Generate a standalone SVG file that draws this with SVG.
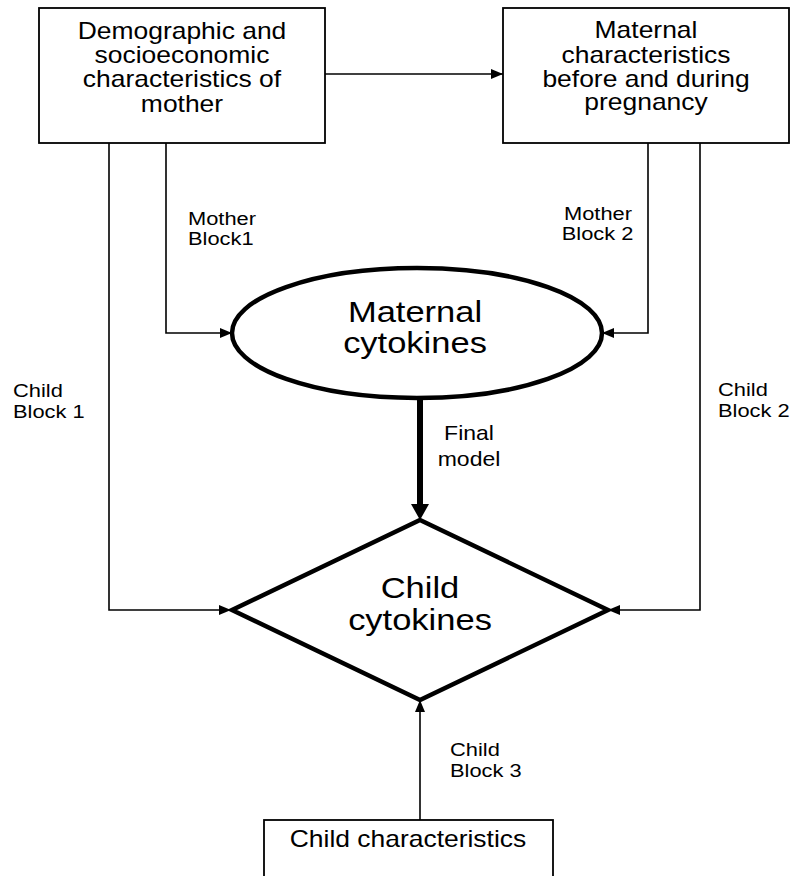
<svg xmlns="http://www.w3.org/2000/svg" width="794" height="876" viewBox="0 0 794 876">
<style>
  .box{fill:#fff;stroke:#000;stroke-width:1.8}
  .shape{fill:#fff;stroke:#000;stroke-width:4.5}
  .conn{fill:none;stroke:#000;stroke-width:1.6}
  .thick{fill:none;stroke:#000;stroke-width:6}
  text{font-family:"Liberation Sans",Arial,sans-serif;fill:#000}
  .bt{font-size:23px;text-anchor:middle}
  .big{font-size:30px;text-anchor:middle}
  .lbl{font-size:19px}
</style>
<defs>
  <marker id="ah" markerWidth="12" markerHeight="10" refX="12" refY="5" orient="auto" markerUnits="userSpaceOnUse">
    <path d="M0,0 L12,5 L0,10 z" fill="#000"/>
  </marker>
</defs>
<rect width="794" height="876" fill="#fff"/>

<g id="connectors">
  <path class="conn" d="M325,74 H503" marker-end="url(#ah)"/>
  <path class="conn" d="M166,143 V333 H232" marker-end="url(#ah)"/>
  <path class="conn" d="M109,143 V610 H231" marker-end="url(#ah)"/>
  <path class="conn" d="M648,143 V333 H602" marker-end="url(#ah)"/>
  <path class="conn" d="M700,143 V610 H608" marker-end="url(#ah)"/>
  <path class="thick" d="M420,398 V505"/>
  <path d="M411,504 L429,504 L420,520 z" fill="#000"/>
  <path class="conn" d="M420,820 V700" marker-end="url(#ah)"/>
  <text class="lbl" transform="translate(188,0) scale(1.15,1)"><tspan x="0" y="225">Mother</tspan><tspan x="0" y="245">Block1</tspan></text>
  <text class="lbl" transform="translate(564,0) scale(1.15,1)"><tspan x="0" y="220">Mother</tspan><tspan x="-2" y="240">Block 2</tspan></text>
  <text class="lbl" transform="translate(13,0) scale(1.15,1)"><tspan x="0" y="397">Child</tspan><tspan x="0" y="418">Block 1</tspan></text>
  <text class="lbl" transform="translate(718,0) scale(1.15,1)"><tspan x="0" y="396">Child</tspan><tspan x="0" y="417">Block 2</tspan></text>
  <text class="lbl" transform="translate(469,0) scale(1.15,1)" style="font-size:20px;text-anchor:middle"><tspan x="0" y="440">Final</tspan><tspan x="0" y="466">model</tspan></text>
  <text class="lbl" transform="translate(450,0) scale(1.15,1)"><tspan x="0" y="756">Child</tspan><tspan x="0" y="777">Block 3</tspan></text>
</g>

<g id="node-demographic">
  <rect class="box" x="39" y="8" width="286" height="135"/>
  <text class="bt" transform="translate(182,0) scale(1.15,1)"><tspan x="0" y="39.5">Demographic and</tspan><tspan x="0" y="63">socioeconomic</tspan><tspan x="0" y="87">characteristics of</tspan><tspan x="0" y="112">mother</tspan></text>
</g>

<g id="node-maternal-char">
  <rect class="box" x="503" y="8" width="286" height="135"/>
  <text class="bt" transform="translate(646,0) scale(1.15,1)"><tspan x="0" y="38">Maternal</tspan><tspan x="0" y="63">characteristics</tspan><tspan x="0" y="87">before and during</tspan><tspan x="0" y="110">pregnancy</tspan></text>
</g>

<g id="node-maternal-cytokines">
  <ellipse class="shape" cx="417" cy="333" rx="185" ry="65"/>
  <text class="big" transform="translate(415,0) scale(1.15,1)"><tspan x="0" y="322">Maternal</tspan><tspan x="0" y="353">cytokines</tspan></text>
</g>

<g id="node-child-cytokines">
  <path class="shape" d="M420,520 L608,610 L420,700 L232,610 z"/>
  <text class="big" transform="translate(420,0) scale(1.15,1)"><tspan x="0" y="598">Child</tspan><tspan x="0" y="630">cytokines</tspan></text>
</g>

<g id="node-child-char">
  <rect class="box" x="264" y="820" width="289" height="70"/>
  <text class="bt" transform="translate(408,0) scale(1.15,1)"><tspan x="0" y="847">Child characteristics</tspan></text>
</g>
</svg>
